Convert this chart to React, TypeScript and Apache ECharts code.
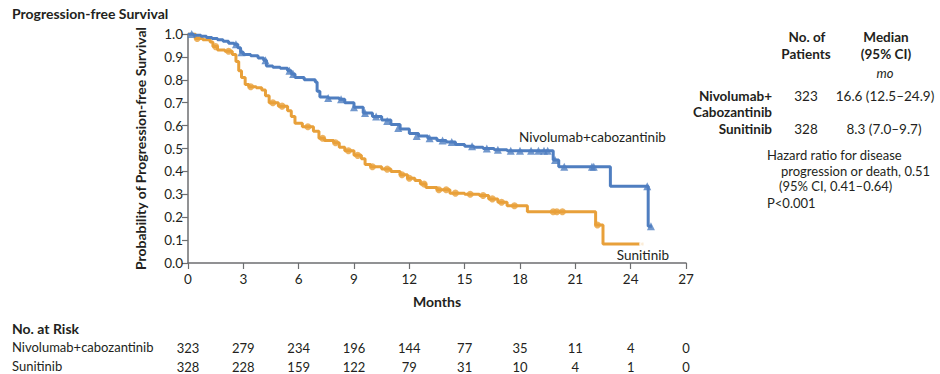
import React, { useEffect, useRef } from "react";
import * as echarts from "echarts";

const xTicks = [0, 3, 6, 9, 12, 15, 18, 21, 24, 27];
const nivoRisk = [323, 279, 234, 196, 144, 77, 35, 11, 4, 0];
const suniRisk = [328, 228, 159, 122, 79, 31, 10, 4, 1, 0];

const nivoName = "Nivolumab+cabozantinib";
const suniName = "Sunitinib";

const nivoCurve: [number, number][] = [
  [0, 1.0], [0.3, 0.995], [0.7, 0.99], [1.0, 0.985], [1.3, 0.98], [1.6, 0.975],
  [1.9, 0.968], [2.2, 0.96], [2.5, 0.955], [2.7, 0.94], [2.85, 0.92], [3.0, 0.91],
  [3.4, 0.905], [3.8, 0.895], [4.1, 0.885], [4.25, 0.86], [4.6, 0.855], [5.0, 0.85],
  [5.4, 0.84], [5.6, 0.825], [5.8, 0.81], [6.3, 0.8], [6.9, 0.79], [7.0, 0.75],
  [7.15, 0.725], [7.6, 0.72], [8.2, 0.715], [8.5, 0.7], [9.0, 0.68], [9.5, 0.655],
  [10.0, 0.64], [10.5, 0.625], [11.0, 0.605], [11.5, 0.585], [12.0, 0.565],
  [12.5, 0.555], [13.0, 0.545], [13.5, 0.535], [14.0, 0.528], [14.5, 0.518],
  [15.0, 0.51], [15.5, 0.505], [16.0, 0.5], [16.6, 0.495], [17.3, 0.49],
  [19.8, 0.45], [20.1, 0.42], [22.9, 0.335], [24.95, 0.16], [25.15, 0.16],
];

const suniCurve: [number, number][] = [
  [0, 1.0], [0.4, 0.98], [0.8, 0.975], [1.2, 0.965], [1.35, 0.945], [1.6, 0.93],
  [2.0, 0.925], [2.4, 0.91], [2.6, 0.88], [2.75, 0.84], [2.9, 0.81], [3.1, 0.78],
  [3.3, 0.77], [3.7, 0.765], [4.0, 0.755], [4.2, 0.73], [4.4, 0.7], [4.9, 0.685],
  [5.4, 0.665], [5.6, 0.64], [5.8, 0.61], [6.2, 0.595], [6.8, 0.575], [7.1, 0.545],
  [7.4, 0.535], [7.9, 0.525], [8.2, 0.505], [8.5, 0.49], [9.0, 0.47], [9.4, 0.455],
  [9.6, 0.43], [9.9, 0.42], [10.5, 0.41], [11.0, 0.4], [11.5, 0.385], [11.9, 0.37],
  [12.3, 0.36], [12.6, 0.345], [12.9, 0.33], [13.5, 0.32], [14.2, 0.305],
  [15.0, 0.3], [15.8, 0.295], [16.3, 0.28], [16.8, 0.265], [17.3, 0.25],
  [18.4, 0.224], [22.1, 0.166], [22.5, 0.083], [24.7, 0.083],
];

const nivoCensor: [number, number][] = [
  [0.2, 1.0], [2.6, 0.955], [2.9, 0.92], [4.2, 0.885], [5.5, 0.84], [5.7, 0.825],
  [7.6, 0.72], [8.3, 0.715], [9.0, 0.68], [9.6, 0.655], [10.2, 0.64], [10.8, 0.62],
  [11.4, 0.59], [12.4, 0.555], [13.1, 0.545], [13.8, 0.535], [14.3, 0.528],
  [15.4, 0.51], [16.2, 0.5], [16.8, 0.495], [17.5, 0.49], [18.0, 0.49], [18.6, 0.49],
  [19.0, 0.49], [19.3, 0.49], [19.5, 0.49], [19.9, 0.45], [20.4, 0.42], [21.9, 0.42],
  [22.0, 0.42], [24.9, 0.335], [25.1, 0.16],
];

const suniCensor: [number, number][] = [
  [0.5, 0.98], [1.5, 0.945], [2.2, 0.925], [3.4, 0.77], [4.6, 0.7], [5.1, 0.685],
  [6.5, 0.595], [7.3, 0.545], [8.0, 0.525], [8.7, 0.49], [9.2, 0.47], [10.0, 0.42],
  [10.8, 0.41], [11.6, 0.385], [12.0, 0.37], [12.8, 0.345], [13.6, 0.32], [14.0, 0.32],
  [14.5, 0.305], [15.3, 0.3], [16.0, 0.295], [16.5, 0.28], [17.0, 0.265], [17.7, 0.25],
  [19.8, 0.224], [20.0, 0.224], [20.3, 0.224], [22.2, 0.166], [24.7, 0.083],
];

const BLUE = "#4f7ec0";
const ORANGE = "#e8a03a";
const TXT = "#231f20";
const FONT = "Lato, 'Open Sans', sans-serif";

function txt(text: string, x: number, y: number, opts: any = {}) {
  const size = opts.size ?? 13;
  const weight = opts.bold ? "bold" : "normal";
  const italic = opts.italic ? "italic " : "";
  return {
    type: "text",
    style: {
      text,
      x,
      y,
      align: opts.align ?? "left",
      verticalAlign: "middle",
      fill: TXT,
      font: `${italic}${weight} ${size}px ${FONT}`,
    },
  };
}

export default function App() {
  const ref = useRef<HTMLDivElement>(null);
  useEffect(() => {
    if (!ref.current) return;
    const chart = echarts.init(ref.current, undefined, { renderer: "svg" });
    const riskAxis = (vals: number[], offset: number) => ({
      type: "value",
      min: 0,
      max: 27,
      interval: 3,
      position: "bottom",
      offset,
      axisLine: { show: false },
      axisTick: { show: false },
      splitLine: { show: false },
      axisLabel: {
        margin: 0,
        color: TXT,
        fontSize: 13,
        fontFamily: FONT,
        showMinLabel: true,
        showMaxLabel: true,
        formatter: (v: number) => String(vals[xTicks.indexOf(Math.round(v))] ?? ""),
      },
    });
    const lastSuni = suniCensor.length - 1;
    chart.setOption({
      animation: false,
      backgroundColor: "#ffffff",
      textStyle: { fontFamily: FONT },
      grid: { left: 188, right: 254, top: 34, bottom: 111, containLabel: false },
      xAxis: [
        {
          type: "value",
          min: 0,
          max: 27,
          interval: 3,
          name: "Months",
          nameLocation: "middle",
          nameGap: 31,
          nameTextStyle: { color: TXT, fontSize: 14, fontWeight: "bold", fontFamily: FONT },
          axisLine: { show: true, lineStyle: { color: "#6d6e70", width: 1.5 } },
          axisTick: { show: true, length: 6, lineStyle: { color: "#6d6e70", width: 1.2 } },
          splitLine: { show: false },
          axisLabel: { color: TXT, fontSize: 13.5, margin: 9, fontFamily: FONT, showMinLabel: true, showMaxLabel: true },
        },
        riskAxis(nivoRisk, 78),
        riskAxis(suniRisk, 97),
      ],
      yAxis: {
        type: "value",
        min: 0,
        max: 1,
        interval: 0.1,
        name: "Probability of Progression-free Survival",
        nameLocation: "middle",
        nameRotate: 90,
        nameGap: 41,
        nameTextStyle: { color: TXT, fontSize: 14, fontWeight: "bold", fontFamily: FONT },
        axisLine: { show: true, lineStyle: { color: "#6d6e70", width: 1.5 } },
        axisTick: { show: true, length: 6, lineStyle: { color: "#6d6e70", width: 1.2 } },
        splitLine: { show: false },
        axisLabel: {
          color: TXT,
          fontSize: 13.5,
          margin: 5,
          fontFamily: FONT,
          formatter: (v: number) => v.toFixed(1),
        },
      },
      series: [
        {
          name: suniName,
          type: "line",
          step: "end",
          data: suniCurve,
          showSymbol: false,
          lineStyle: { color: ORANGE, width: 3 },
          z: 2,
        },
        {
          name: suniName + " censored",
          type: "scatter",
          data: suniCensor.map((p, i) =>
            i === lastSuni
              ? { value: p, symbol: "emptyCircle", itemStyle: { color: "#fff", borderColor: ORANGE, borderWidth: 2 } }
              : { value: p }
          ),
          symbol: "circle",
          symbolSize: 7,
          itemStyle: { color: ORANGE },
          z: 3,
        },
        {
          name: nivoName,
          type: "line",
          step: "end",
          data: nivoCurve,
          showSymbol: false,
          lineStyle: { color: BLUE, width: 3 },
          z: 4,
        },
        {
          name: nivoName + " censored",
          type: "scatter",
          data: nivoCensor,
          symbol: "triangle",
          symbolSize: 8,
          itemStyle: { color: BLUE },
          z: 5,
        },
      ],
      graphic: [
        txt("Progression-free Survival", 12, 13, { bold: true, size: 14 }),
        txt(nivoName, 519, 137, { size: 13.5 }),
        txt(suniName, 669, 255, { size: 13.5, align: "right" }),
        txt("No. of", 807, 37, { bold: true, align: "center", size: 13.5 }),
        txt("Patients", 806, 54, { bold: true, align: "center", size: 13.5 }),
        txt("Median", 886, 37, { bold: true, align: "center", size: 13.5 }),
        txt("(95% CI)", 886, 54, { bold: true, align: "center", size: 13.5 }),
        txt("mo", 885, 73, { italic: true, align: "center", size: 13 }),
        txt("Nivolumab+", 772, 96, { bold: true, align: "right", size: 13.5 }),
        txt("Cabozantinib", 772, 112, { bold: true, align: "right", size: 13.5 }),
        txt("323", 806, 96, { align: "center", size: 13.5 }),
        txt("16.6 (12.5\u201324.9)", 885, 96, { align: "center", size: 13.5 }),
        txt("Sunitinib", 772, 129, { bold: true, align: "right", size: 13.5 }),
        txt("328", 806, 129, { align: "center", size: 13.5 }),
        txt("8.3 (7.0\u20139.7)", 884, 129, { align: "center", size: 13.5 }),
        txt("Hazard ratio for disease", 767, 155, { size: 13 }),
        txt("progression or death, 0.51", 781, 171, { size: 13 }),
        txt("(95% CI, 0.41\u20130.64)", 779, 186, { size: 13 }),
        txt("P<0.001", 767, 203, { size: 13 }),
        txt("No. at Risk", 12, 328, { bold: true, size: 14 }),
        txt(nivoName, 12, 347, { size: 13 }),
        txt(suniName, 12, 366, { size: 13 }),
      ],
    });
    return () => chart.dispose();
  }, []);
  return (
    <div
      ref={ref}
      style={{ position: "absolute", left: 0, top: 0, width: 940, height: 374, background: "#fff" }}
    />
  );
}
